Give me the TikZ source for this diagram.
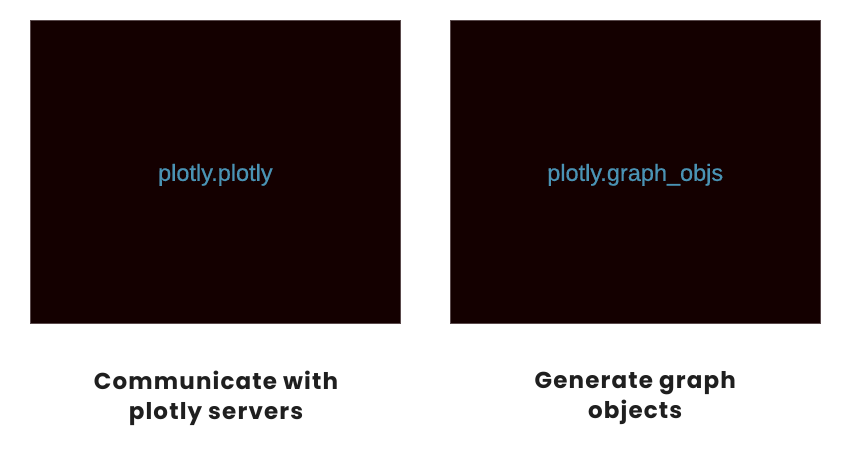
\documentclass[tikz,border=0pt]{standalone}
\usepackage{fontspec}
\setmainfont{Poppins}
\newfontfamily\modfont{Liberation Sans}[FakeBold=0.6]
\newfontfamily\capfont{Poppins}[LetterSpace=5]
\definecolor{boxfill}{HTML}{140000}
\definecolor{boxedge}{HTML}{5A4A4C}
\definecolor{codeblue}{HTML}{4A93B4}
\tikzset{
  panel/.style={fill=boxfill, draw=boxedge, line width=0.6pt, minimum width=370.7pt, minimum height=303pt, inner sep=0pt},
  modname/.style={text=codeblue, font=\modfont\fontsize{23.5}{25}\selectfont},
  caption/.style={text=black!88, font=\capfont\bfseries\fontsize{23}{30}\selectfont, align=center}
}
\begin{document}
\begin{tikzpicture}[x=1pt,y=-1pt]
\useasboundingbox (0,0) rectangle (849,448);
\node[panel] (left) at (215.35,171.8) {};
\node[panel] (right) at (635.2,171.8) {};
\node[modname] (lt) at (left) [yshift=-3pt] {plotly.plotly};
\node[modname] (rt) at (right) [yshift=-3pt] {plotly.graph\_objs};
\node[caption] (lc) at (216,398.5) {Communicate with\\plotly servers};
\node[caption] (rc) at (635.2,398.5) {Generate graph\\objects};
\end{tikzpicture}
\end{document}
